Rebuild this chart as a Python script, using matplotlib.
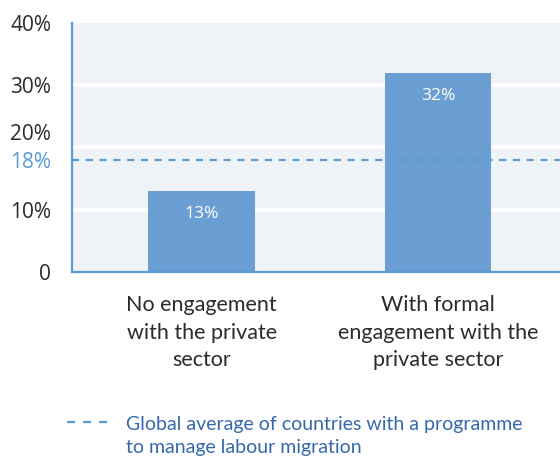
import matplotlib
matplotlib.use("Agg")
import matplotlib.pyplot as plt
from matplotlib.lines import Line2D

categories = ["No engagement\nwith the private\nsector",
              "With formal\nengagement with the\nprivate sector"]
shares = [13, 32]
global_avg = 18
yticks = [0, 10, 20, 30, 40]
ytick_labels = ["0", "10%", "20%", "30%", "40%"]
legend_text = "Global average of countries with a programme\nto manage labour migration"

BAR = "#6b9fd3"
AXIS = "#5b9bd5"
BG = "#eef3f8"
TXT = "#2b2b2b"
LEG = "#3568ad"
NUM_FONT = ["Open Sans", "DejaVu Sans"]

plt.rcParams["font.family"] = ["Lato", "DejaVu Sans"]

fig = plt.figure(figsize=(5.6, 4.58), dpi=100)
ax = fig.add_axes([72 / 560, 1 - 271.7 / 458, 1 - 72 / 560, (271.7 - 23) / 458])
ax.set_facecolor(BG)

x = list(range(len(categories)))
for v in yticks[1:-1]:
    ax.axhline(v, color="white", lw=3, zorder=1)
bars = ax.bar(x, shares, width=0.452, color=BAR, zorder=2)
for b, v in zip(bars, shares):
    ax.annotate(f"{v}%", (b.get_x() + b.get_width() / 2, v), xytext=(0, -17),
                textcoords="offset points", ha="center", va="center",
                color="white", fontsize=12.5, family=NUM_FONT, zorder=3)
ax.axhline(global_avg, color=AXIS, lw=1.6, ls=(0, (3.2, 3.0)), zorder=4)

ax.set_xlim(-0.548, 1.516)
ax.set_ylim(0, 40)
ax.set_xticks(x)
ax.set_xticklabels(categories, fontsize=15.5, color=TXT, linespacing=1.45)
ax.tick_params(axis="x", length=0, pad=17)

# the 20% label sits a little above its gridline to clear the 18% marker
tick_text = [t if v != 20 else "" for v, t in zip(yticks, ytick_labels)]
ax.set_yticks(yticks + [global_avg])
ax.set_yticklabels(tick_text + [f"{global_avg}%"], fontsize=15,
                   family=NUM_FONT, color=TXT)
ax.get_yticklabels()[-1].set_color(AXIS)
ax.tick_params(axis="y", length=0, pad=15)
yaxis_tf = ax.get_yaxis_transform()
for v, t in zip(yticks, ytick_labels):
    if v == 20:
        ax.annotate(t, (0, v), xycoords=yaxis_tf, xytext=(-15, 9),
                    textcoords="offset points", ha="right", va="center",
                    fontsize=15, family=NUM_FONT, color=TXT, annotation_clip=False)

for s in ["top", "right"]:
    ax.spines[s].set_visible(False)
for s in ["left", "bottom"]:
    ax.spines[s].set_color(AXIS)
    ax.spines[s].set_linewidth(1.6)

# legend sample for the dashed average line
fig.add_artist(Line2D([67 / 560, 108 / 560], [1 - 422 / 458] * 2, color=AXIS,
                      lw=1.6, ls=(0, (3.6, 3.6)), transform=fig.transFigure))
fig.text(126 / 560, 1 - 416 / 458, legend_text, color=LEG, fontsize=14,
         va="top", ha="left", linespacing=1.45)

fig.savefig("out.png", dpi=100)
